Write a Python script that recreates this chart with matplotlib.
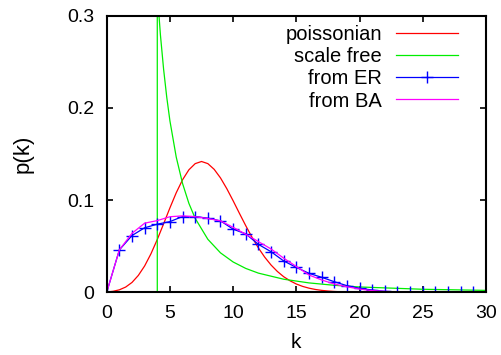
import numpy as np
import matplotlib
matplotlib.use('Agg')
import matplotlib.pyplot as plt

plt.rcParams['font.family'] = ['Liberation Sans', 'DejaVu Sans']

# poissonian (smooth curve, sampled every 0.5)
k_poi = np.arange(0, 20.5, 0.5).tolist() + [30]
p_poi = [0.0003, 0.0011, 0.0027, 0.0057, 0.0107, 0.0183, 0.0286, 0.0418,
         0.0573, 0.0743, 0.0916, 0.1080, 0.1221, 0.1329, 0.1396, 0.1419,
         0.1396, 0.1334, 0.1241, 0.1124, 0.0993, 0.0856, 0.0722, 0.0596,
         0.0481, 0.0381, 0.0296, 0.0226, 0.0169, 0.0125, 0.0090, 0.0064,
         0.0045, 0.0031, 0.0021, 0.0014, 0.0009, 0.0006, 0.0004, 0.0002,
         0.0002, 0.0]

# scale free (zero below k=4)
k_sf = [0, 4, 4, 4.25, 4.5, 4.75, 5, 5.5, 6, 6.5, 7, 8, 9, 10, 11, 12,
        14, 16, 18, 20, 25, 30]
p_sf = [0, 0, 0.325, 0.279, 0.242, 0.2115, 0.186, 0.1466, 0.118, 0.0965,
        0.0802, 0.0575, 0.0428, 0.0329, 0.0259, 0.0208, 0.0142, 0.0102,
        0.0076, 0.0058, 0.0033, 0.0021]

# measured degree distributions
k_int = list(range(0, 31))
p_er = [0, 0.046, 0.0616, 0.070, 0.0739, 0.0767, 0.0822, 0.0822, 0.0804,
        0.0775, 0.0685, 0.0634, 0.052, 0.044, 0.034, 0.027, 0.0206, 0.0163,
        0.0115, 0.0072, 0.0043, 0.0025, 0.001, 0.0005, 0.0002, 0, 0, 0, 0,
        0, 0]
p_ba = [0, 0.046, 0.064, 0.075, 0.0778, 0.082, 0.0829, 0.082, 0.080,
        0.0775, 0.0705, 0.063, 0.055, 0.047, 0.037, 0.028, 0.0188, 0.0134,
        0.009, 0.006, 0.0035, 0.0018, 0.001, 0.0005, 0.0002, 0, 0, 0, 0,
        0, 0]

fig = plt.figure(figsize=(5.01, 3.55), dpi=100)
ax = fig.add_axes([0.213, 0.1766, 0.757, 0.779])

ax.plot(k_poi, p_poi, color='#ff0000', lw=0.9, label='poissonian')
ax.plot(k_sf, p_sf, color='#00ee00', lw=0.9, label='scale free')
ax.plot(k_int, p_er, color='#0000ff', lw=0.9, marker='+', ms=8, mew=1.0,
        label='from ER')
ax.plot(k_int, p_ba, color='#ff00ff', lw=0.9, label='from BA')

ax.set_xlim(0, 30)
ax.set_ylim(0, 0.3)
ax.set_xticks([0, 5, 10, 15, 20, 25, 30])
ax.set_yticks([0, 0.1, 0.2, 0.3])
ax.set_yticklabels(['0', '0.1', '0.2', '0.3'])
ax.tick_params(direction='in', length=4, width=1.2, top=True, right=True,
               labelsize=14, pad=9)
for s in ax.spines.values():
    s.set_linewidth(1.5)

ax.set_xlabel('k', fontsize=15, labelpad=8)
ax.set_ylabel('p(k)', fontsize=16, labelpad=24)

ax.legend(loc='upper right', bbox_to_anchor=(0.927, 0.965), frameon=False,
          markerfirst=False, fontsize=14.5, handlelength=3.1,
          handletextpad=0.7, labelspacing=0.15, borderpad=0,
          borderaxespad=0)

fig.savefig('out.png', dpi=100)
